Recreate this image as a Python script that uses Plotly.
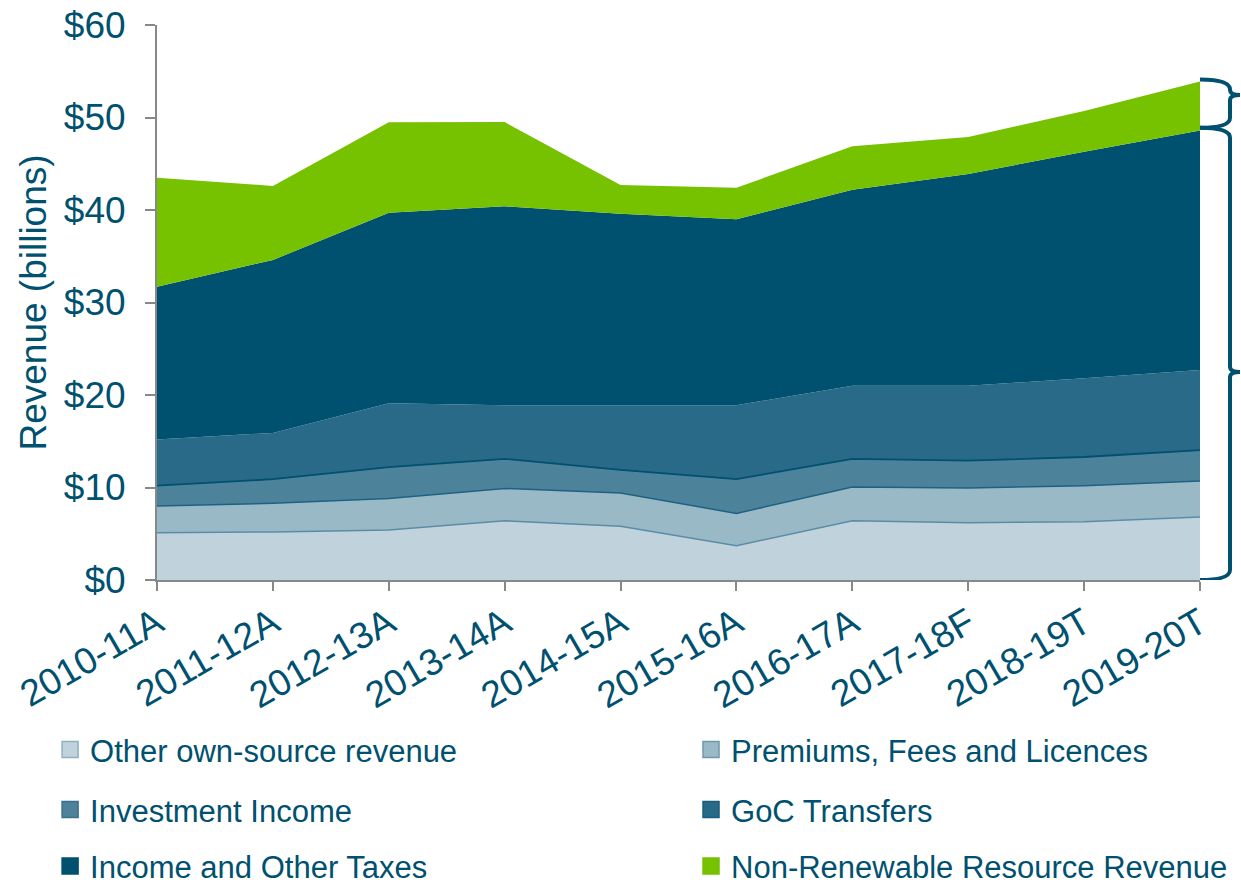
import plotly.graph_objects as go

years = ["2010-11A", "2011-12A", "2012-13A", "2013-14A", "2014-15A",
         "2015-16A", "2016-17A", "2017-18F", "2018-19T", "2019-20T"]

other_own_source = [5.1, 5.2, 5.4, 6.4, 5.8, 3.7, 6.4, 6.2, 6.3, 6.8]
premiums_fees = [2.9, 3.1, 3.4, 3.5, 3.6, 3.5, 3.65, 3.75, 3.9, 3.9]
investment_income = [2.2, 2.6, 3.4, 3.2, 2.5, 3.7, 3.05, 2.95, 3.1, 3.35]
goc_transfers = [5.0, 5.0, 6.9, 5.8, 7.0, 8.0, 7.9, 8.1, 8.5, 8.65]
income_taxes = [16.5, 18.7, 20.6, 21.5, 20.7, 20.1, 21.2, 22.9, 24.5, 25.9]
non_renewable = [11.8, 8.0, 9.8, 9.1, 3.1, 3.4, 4.7, 4.0, 4.4, 5.3]

y_ticks = [0, 10, 20, 30, 40, 50, 60]
y_tick_labels = ["$0", "$10", "$20", "$30", "$40", "$50", "$60"]

TEXT = "#00506F"
FONT = "Liberation Sans, Arial, sans-serif"

series = [
    ("Other own-source revenue", other_own_source, "#C0D3DD", "#5B8CA6", 1.5, "#8FB0C2"),
    ("Premiums, Fees and Licences", premiums_fees, "#9AB9C7", "#1E6283", 1.5, "#6F98AD"),
    ("Investment Income", investment_income, "#4D829B", "#00506F", 1.8, "#3A708B"),
    ("GoC Transfers", goc_transfers, "#286A88", "#286A88", 0, "#1C5D7C"),
    ("Income and Other Taxes", income_taxes, "#00506F", "#00506F", 0, "#00506F"),
    ("Non-Renewable Resource Revenue", non_renewable, "#76C100", "#76C100", 0, "#76C100"),
]
legend_ids = ["legend", "legend2", "legend3", "legend4", "legend5", "legend6"]

fig = go.Figure()
for name, vals, fillc, linec, lw, edge in series:
    fig.add_trace(go.Scatter(
        x=years, y=vals, name=name, mode="lines", stackgroup="one",
        fillcolor=fillc, line=dict(color=linec, width=lw), showlegend=False,
    ))
# legend entries with square swatches
for (name, vals, fillc, linec, lw, edge), lg in zip(series, legend_ids):
    fig.add_trace(go.Scatter(
        x=[None], y=[None], name=name, mode="markers", legend=lg,
        marker=dict(symbol="square", size=18, color=fillc, line=dict(color=edge, width=1.5)),
        showlegend=True,
    ))

W, H = 1241, 884
ML, MR, MT, MB = 157, 41, 25, 304
PW = W - ML - MR
PH = H - MT - MB

# Braces on the right
totals = [sum(v) for v in zip(other_own_source, premiums_fees, investment_income,
                              goc_transfers, income_taxes, non_renewable)]
below_nrr = [sum(v) for v in zip(other_own_source, premiums_fees, investment_income,
                                 goc_transfers, income_taxes)]
top = totals[-1] + 0.2
mid = below_nrr[-1] + 0.3
px = 60.0 / PH  # data units per pixel
xs, xsp, xt = 1.0, 1.0 + 30 / PW, 1.0 + 40 / PW


def brace(yhi, ylo, ym):
    r = 10 * px
    r2 = 5 * px
    return (f"M {xs},{yhi} Q {xsp},{yhi} {xsp},{yhi - r} "
            f"L {xsp},{ym + r2} Q {xsp},{ym} {xt},{ym} "
            f"Q {xsp},{ym} {xsp},{ym - r2} "
            f"L {xsp},{ylo + r} Q {xsp},{ylo} {xs},{ylo}")


ym_up = mid + (top - mid) * 0.68
ym_lo = mid * 0.46
for p in (brace(top, mid, ym_up), brace(mid, 0, ym_lo)):
    fig.add_shape(type="path", path=p, xref="paper", yref="y",
                  line=dict(color=TEXT, width=4))

leg_common = dict(orientation="h", xanchor="left", yanchor="middle",
                  font=dict(family=FONT, size=31, color=TEXT),
                  bgcolor="rgba(0,0,0,0)", itemclick=False, itemdoubleclick=False)
col_x = [-0.1025, 0.512]
row_y = [-0.306, -0.414, -0.516]
legend_layout = {}
for i, lg in enumerate(legend_ids):
    legend_layout[lg] = dict(x=col_x[i % 2], y=row_y[i // 2], **leg_common)

fig.update_layout(
    width=W, height=H,
    margin=dict(l=ML, r=MR, t=MT, b=MB, autoexpand=False),
    paper_bgcolor="white", plot_bgcolor="white",
    font=dict(family=FONT, color=TEXT, size=37),
    showlegend=True,
    **legend_layout,
    xaxis=dict(
        type="category", range=[0, 9], showgrid=False, zeroline=False,
        showline=True, linecolor="#888888", linewidth=2,
        ticks="outside", ticklen=9, tickwidth=2, tickcolor="#888888",
        tickangle=-30, tickfont=dict(family=FONT, size=37, color=TEXT),
        ticklabelstandoff=-4, automargin=False, ticklabeloverflow="allow",
    ),
    yaxis=dict(
        range=[0, 60], tickmode="array", tickvals=y_ticks, ticktext=y_tick_labels,
        showgrid=False, zeroline=False,
        showline=True, linecolor="#888888", linewidth=2,
        ticks="outside", ticklen=10, tickwidth=2, tickcolor="#888888",
        tickfont=dict(family=FONT, size=37, color=TEXT), ticklabelstandoff=12,
        automargin=False, ticklabeloverflow="allow",
        title=dict(text="Revenue (billions)", font=dict(family=FONT, size=37, color=TEXT),
                   standoff=6),
    ),
)

fig.write_html("out.html", config={"displayModeBar": False},
               post_script="document.body.style.margin='0';")
